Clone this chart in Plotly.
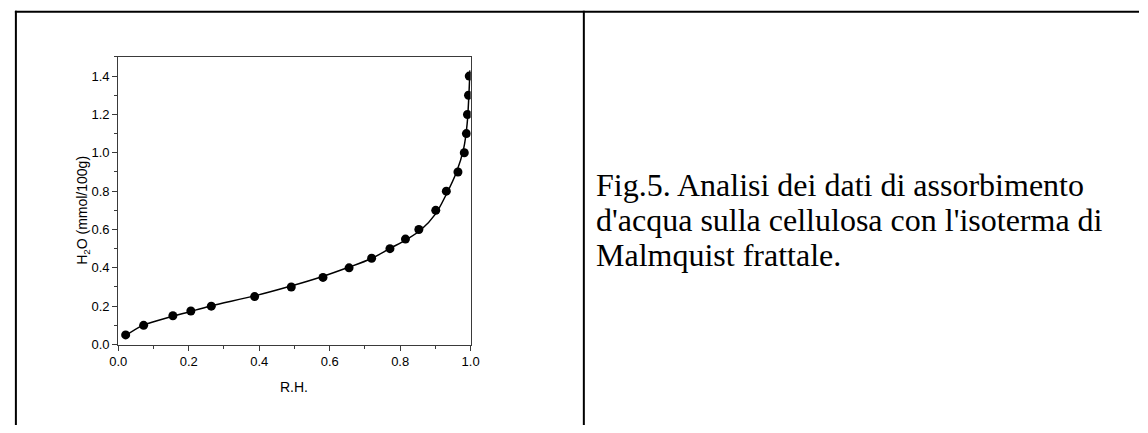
import plotly.graph_objects as go

W, H = 1148, 433

# Measured data (R.H., H2O mmol/100g)
rh_points = [0.021, 0.072, 0.155, 0.206, 0.264, 0.387, 0.491, 0.581, 0.655, 0.719,
             0.771, 0.815, 0.853, 0.901, 0.931, 0.964, 0.982, 0.988, 0.991, 0.994, 0.996]
h2o_points = [0.05, 0.10, 0.15, 0.175, 0.20, 0.25, 0.30, 0.35, 0.40, 0.45,
              0.50, 0.55, 0.60, 0.70, 0.80, 0.90, 1.00, 1.10, 1.20, 1.30, 1.40]

# Fitted curve
rh_fit = [0.02, 0.07, 0.15, 0.20, 0.26, 0.39, 0.49, 0.58, 0.65, 0.72, 0.77, 0.82,
          0.86, 0.90, 0.93, 0.96, 0.98, 0.99, 0.995, 0.998]
h2o_fit = [0.045, 0.10, 0.145, 0.17, 0.20, 0.255, 0.305, 0.355, 0.40, 0.45, 0.50, 0.55,
           0.60, 0.68, 0.78, 0.90, 1.02, 1.15, 1.30, 1.43]

x_ticks = [0.0, 0.2, 0.4, 0.6, 0.8, 1.0]
y_ticks = [0.0, 0.2, 0.4, 0.6, 0.8, 1.0, 1.2, 1.4]

x_title = "R.H."
y_title = "H<sub>2</sub>O (mmol/100g)"

caption_lines = ["Fig.5. Analisi dei dati di assorbimento",
                 "d'acqua sulla cellulosa con l'isoterma di",
                 "Malmquist frattale."]

def px(x):
    return x / W

def py(y):
    return 1 - y / H

fig = go.Figure()
fig.add_trace(go.Scatter(x=rh_fit, y=h2o_fit, mode="lines", line=dict(color="black", width=1.5, shape="spline"),
                         hoverinfo="skip", showlegend=False))
fig.add_trace(go.Scatter(x=rh_points, y=h2o_points, mode="markers",
                         marker=dict(color="black", size=9), showlegend=False))

axis_common = dict(showgrid=False, zeroline=False, showline=True, linecolor="#3a3a3a", linewidth=1.3,
                   mirror=True, ticks="outside", ticklen=5, tickwidth=1, tickcolor="#3a3a3a",
                   tickformat=".1f", tickfont=dict(family="Liberation Sans, Arial", size=13, color="black"),
                   minor=dict(ticks="outside", ticklen=3, tickwidth=1, tickcolor="#3a3a3a", dtick=0.1))

fig.update_xaxes(range=[0, 1.0], tickvals=x_ticks, domain=[px(111), px(469)], **axis_common)
fig.update_yaxes(range=[0, 1.5], tickvals=y_ticks, domain=[py(351), py(58)], **axis_common)

shapes = [
    dict(type="line", xref="paper", yref="paper", x0=px(6), x1=1.0, y0=py(12), y1=py(12), line=dict(color="black", width=2)),
    dict(type="line", xref="paper", yref="paper", x0=px(7), x1=px(7), y0=py(11), y1=0, line=dict(color="black", width=2)),
    dict(type="line", xref="paper", yref="paper", x0=px(584), x1=px(584), y0=py(11), y1=0, line=dict(color="black", width=2)),
]

title_font = dict(family="Liberation Sans, Arial", size=14, color="black")
annotations = [
    dict(text=x_title, xref="paper", yref="paper", x=px(290), y=py(394), xanchor="center", yanchor="middle",
         showarrow=False, font=title_font),
    dict(text=y_title, xref="paper", yref="paper", x=px(75), y=py(214), xanchor="center", yanchor="middle",
         textangle=-90, showarrow=False, font=title_font),
]

baselines = [199, 235, 271]
for line, b in zip(caption_lines, baselines):
    annotations.append(dict(text=line, xref="paper", yref="paper", x=px(594), y=py(b - 11),
                            xanchor="left", yanchor="middle", showarrow=False,
                            font=dict(family="Liberation Serif, Times New Roman", size=32, color="black")))

fig.update_layout(width=W, height=H, margin=dict(l=0, r=0, t=0, b=0), paper_bgcolor="white",
                  plot_bgcolor="white", shapes=shapes, annotations=annotations)

fig.write_html("out.html")
